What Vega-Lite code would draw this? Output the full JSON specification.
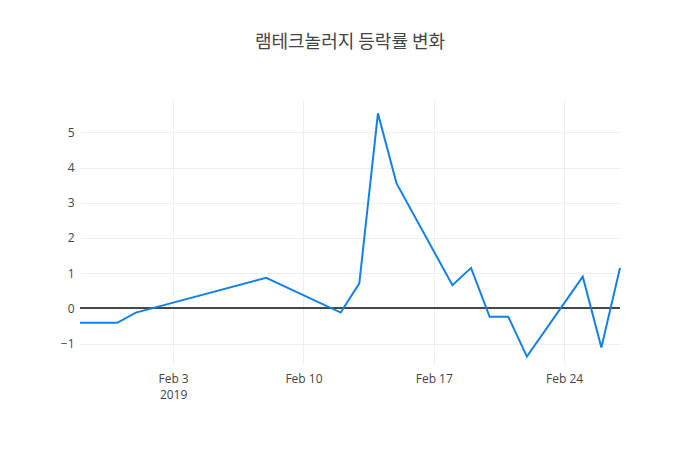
{
  "$schema": "https://vega.github.io/schema/vega-lite/v6.json",
  "autosize": "none",
  "width": 540,
  "height": 265,
  "padding": {"left": 80, "top": 100, "right": 80, "bottom": 85},
  "background": "white",
  "view": {"stroke": null},
  "title": {
    "text": "램테크놀러지 등락률 변화",
    "font": "Noto Sans CJK KR",
    "fontSize": 18,
    "fontWeight": "normal",
    "color": "#444444",
    "anchor": "middle",
    "baseline": "bottom",
    "offset": 30
  },
  "data": {
    "values": [
      {"date": "2019-01-29", "rate": -0.41},
      {"date": "2019-01-31", "rate": -0.41},
      {"date": "2019-02-01", "rate": -0.12},
      {"date": "2019-02-08", "rate": 0.87},
      {"date": "2019-02-12", "rate": -0.12},
      {"date": "2019-02-13", "rate": 0.71},
      {"date": "2019-02-14", "rate": 5.54},
      {"date": "2019-02-15", "rate": 3.55},
      {"date": "2019-02-18", "rate": 0.66},
      {"date": "2019-02-19", "rate": 1.15},
      {"date": "2019-02-20", "rate": -0.24},
      {"date": "2019-02-21", "rate": -0.24},
      {"date": "2019-02-22", "rate": -1.37},
      {"date": "2019-02-25", "rate": 0.9},
      {"date": "2019-02-26", "rate": -1.11},
      {"date": "2019-02-27", "rate": 1.15}
    ]
  },
  "encoding": {
    "x": {
      "field": "date",
      "type": "temporal",
      "scale": {"type": "utc", "nice": false},
      "axis": {
        "title": null,
        "domain": false,
        "ticks": false,
        "grid": true,
        "gridColor": "#eeeeee",
        "values": [
          {"year": 2019, "month": 2, "date": 3, "utc": true},
          {"year": 2019, "month": 2, "date": 10, "utc": true},
          {"year": 2019, "month": 2, "date": 17, "utc": true},
          {"year": 2019, "month": 2, "date": 24, "utc": true}
        ],
        "labelExpr": "utcdate(datum.value) == 3 ? [utcFormat(datum.value, '%b %-d'), '2019'] : utcFormat(datum.value, '%b %-d')",
        "labelFont": "Open Sans",
        "labelFontSize": 12,
        "labelColor": "#444444",
        "labelPadding": 8,
        "labelLineHeight": 16
      }
    },
    "y": {
      "field": "rate",
      "type": "quantitative",
      "scale": {"domain": [-1.61, 5.92], "nice": false, "zero": false},
      "axis": {
        "title": null,
        "domain": false,
        "ticks": false,
        "values": [-1, 0, 1, 2, 3, 4, 5],
        "labelExpr": "datum.value < 0 ? '\u2212' + abs(datum.value) : datum.label",
        "gridColor": "#eeeeee",
        "labelFont": "Open Sans",
        "labelFontSize": 12,
        "labelColor": "#444444",
        "labelPadding": 6
      }
    }
  },
  "layer": [
    {
      "mark": {"type": "rule", "color": "#444444", "strokeWidth": 1},
      "encoding": {
        "x": null,
        "y": {"datum": 0, "type": "quantitative"}
      }
    },
    {
      "mark": {"type": "line", "color": "#1380e8", "strokeWidth": 2}
    }
  ]
}
